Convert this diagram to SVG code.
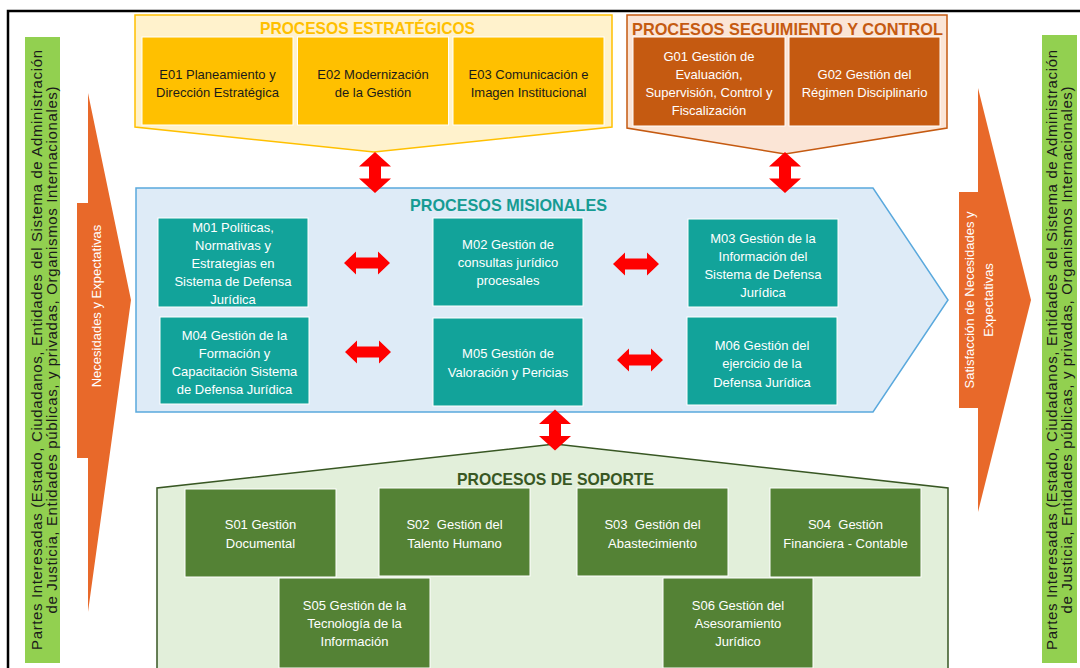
<svg xmlns="http://www.w3.org/2000/svg" width="1080" height="668" viewBox="0 0 1080 668">
<style>
.t{font-family:"Liberation Sans",Arial,sans-serif;font-size:13px;text-anchor:middle}
.tw{fill:#ffffff}
.tb{fill:#1a1a1a}
.ttl{font-family:"Liberation Sans",Arial,sans-serif;font-size:17px;font-weight:bold;text-anchor:middle}
.side{font-family:"Liberation Sans",Arial,sans-serif;font-size:15px;fill:#1a1a1a;text-anchor:middle}
.arr{fill:#e8692a}
.red{fill:#ff0000}
.gold{fill:#ffc000;stroke:#ffffff;stroke-width:1}
.rust{fill:#c55a11;stroke:#ffffff;stroke-width:1}
.teal{fill:#12a39a;stroke:#ffffff;stroke-width:1}
.grn{fill:#548235;stroke:#ffffff;stroke-width:1}
</style>
<defs>
<path id="ha" d="M-23 0 L-11 -11.5 L-11 -5.5 L11 -5.5 L11 -11.5 L23 0 L11 11.5 L11 5.5 L-11 5.5 L-11 11.5 Z"/>
<path id="va" d="M0 -20.5 L16 -6 L6 -6 L6 6 L16 6 L0 20.5 L-16 6 L-6 6 L-6 -6 L-16 -6 Z"/>
</defs>
<rect width="1080" height="668" fill="#ffffff"/>
<path d="M8 668 V11 H1080" fill="none" stroke="#000000" stroke-width="2.5"/>

<g id="partes-izq">
<rect x="25" y="37" width="35" height="626" fill="#92d050"/>
<text class="side" transform="translate(42,350) rotate(-90)" textLength="600" lengthAdjust="spacing">Partes Interesadas (Estado, Ciudadanos, Entidades del Sistema de Administración</text>
<text class="side" transform="translate(57,350) rotate(-90)" textLength="527" lengthAdjust="spacing">de Justicia, Entidades públicas,  y privadas, Organismos Internacionales)</text>
</g>

<g id="necesidades">
<path class="arr" d="M77 203 H88 V93 L131 300 L88 612 V458 H77 Z"/>
<text class="t tw" transform="translate(101,306) rotate(-90)">Necesidades y Expectativas</text>
</g>

<g id="satisfaccion">
<path class="arr" d="M959 192 H978 V88 L1031 300 L978 512 V408 H959 Z"/>
<text class="t tw" transform="translate(974,300) rotate(-90)">Satisfacción de Necesidades y</text>
<text class="t tw" transform="translate(993,300) rotate(-90)">Expectativas</text>
</g>

<g id="partes-der">
<rect x="1042" y="35" width="35" height="628" fill="#92d050"/>
<text class="side" transform="translate(1057,350) rotate(-90)" textLength="600" lengthAdjust="spacing">Partes Interesadas (Estado, Ciudadanos, Entidades del Sistema de Administración</text>
<text class="side" transform="translate(1072,350) rotate(-90)" textLength="527" lengthAdjust="spacing">de Justicia, Entidades públicas,  y privadas, Organismos Internacionales)</text>
</g>

<g id="estrategicos">
<path d="M135 15 H612 V127 L374 152 L135 127 Z" fill="#fff2cc" stroke="#ffc000" stroke-width="1.5"/>
<text class="ttl" x="367.5" y="34" fill="#ffc000" textLength="215" lengthAdjust="spacingAndGlyphs">PROCESOS ESTRATÉGICOS</text>
</g>
<g id="E01"><rect class="gold" x="142" y="37" width="151" height="88"/>
<text class="t tb" x="217.5" y="79">E01 Planeamiento y</text><text class="t tb" x="217.5" y="97">Dirección Estratégica</text></g>
<g id="E02"><rect class="gold" x="297.5" y="37" width="151" height="88"/>
<text class="t tb" x="373" y="79">E02 Modernización</text><text class="t tb" x="373" y="97">de la Gestión</text></g>
<g id="E03"><rect class="gold" x="453" y="37" width="151" height="88"/>
<text class="t tb" x="528.5" y="79">E03 Comunicación e</text><text class="t tb" x="528.5" y="97">Imagen Institucional</text></g>

<g id="seguimiento">
<path d="M627 15 H947 V128 L785 154 L627 128 Z" fill="#fbe5d6" stroke="#c55a11" stroke-width="1.5"/>
<text class="ttl" x="787.5" y="35" fill="#c55a11" textLength="311" lengthAdjust="spacingAndGlyphs">PROCESOS SEGUIMIENTO Y CONTROL</text>
</g>
<g id="G01"><rect class="rust" x="633" y="37" width="152" height="89"/>
<text class="t tw" x="709" y="61">G01 Gestión de</text><text class="t tw" x="709" y="79">Evaluación,</text><text class="t tw" x="709" y="97">Supervisión, Control y</text><text class="t tw" x="709" y="115">Fiscalización</text></g>
<g id="G02"><rect class="rust" x="789" y="37" width="151" height="89"/>
<text class="t tw" x="864.5" y="79">G02 Gestión del</text><text class="t tw" x="864.5" y="97">Régimen Disciplinario</text></g>

<g id="misionales">
<path d="M136 188 H873 L948 300 L873 412 H136 Z" fill="#deebf7" stroke="#5aa9dd" stroke-width="1.5"/>
<text class="ttl" x="508.5" y="211" fill="#169b93" textLength="197" lengthAdjust="spacingAndGlyphs">PROCESOS MISIONALES</text>
</g>
<g id="M01"><rect class="teal" x="158" y="218" width="150" height="89"/>
<text class="t tw" x="233" y="232">M01 Políticas,</text><text class="t tw" x="233" y="250">Normativas y</text><text class="t tw" x="233" y="268">Estrategias en</text><text class="t tw" x="233" y="286">Sistema de Defensa</text><text class="t tw" x="233" y="304">Jurídica</text></g>
<g id="M02"><rect class="teal" x="433" y="218" width="150" height="88"/>
<text class="t tw" x="508" y="249">M02 Gestión de</text><text class="t tw" x="508" y="267">consultas jurídico</text><text class="t tw" x="508" y="285">procesales</text></g>
<g id="M03"><rect class="teal" x="688" y="219" width="150" height="88"/>
<text class="t tw" x="763" y="243">M03 Gestión de la</text><text class="t tw" x="763" y="261">Información del</text><text class="t tw" x="763" y="279">Sistema de Defensa</text><text class="t tw" x="763" y="297">Jurídica</text></g>
<g id="M04"><rect class="teal" x="160" y="317" width="149" height="87"/>
<text class="t tw" x="234.5" y="340">M04 Gestión de la</text><text class="t tw" x="234.5" y="358">Formación y</text><text class="t tw" x="234.5" y="376">Capacitación Sistema</text><text class="t tw" x="234.5" y="394">de Defensa Jurídica</text></g>
<g id="M05"><rect class="teal" x="433" y="318" width="150" height="88"/>
<text class="t tw" x="508" y="358">M05 Gestión de</text><text class="t tw" x="508" y="377">Valoración y Pericias</text></g>
<g id="M06"><rect class="teal" x="687" y="317" width="150" height="88"/>
<text class="t tw" x="762" y="350">M06 Gestión del</text><text class="t tw" x="762" y="368">ejercicio de la</text><text class="t tw" x="762" y="387">Defensa Jurídica</text></g>

<g id="soporte">
<path d="M157 670 V488 L555 444 L948 488 V670" fill="#e2efda" stroke="#385723" stroke-width="1.5"/>
<text class="ttl" x="555.5" y="485" fill="#385723" textLength="197" lengthAdjust="spacingAndGlyphs">PROCESOS DE SOPORTE</text>
</g>
<g id="S01"><rect class="grn" x="185" y="489" width="151" height="88"/>
<text class="t tw" x="260.5" y="529">S01 Gestión</text><text class="t tw" x="260.5" y="548">Documental</text></g>
<g id="S02"><rect class="grn" x="379" y="488" width="151" height="88"/>
<text class="t tw" x="454.5" y="529" xml:space="preserve">S02  Gestión del</text><text class="t tw" x="454.5" y="548">Talento Humano</text></g>
<g id="S03"><rect class="grn" x="577" y="488" width="151" height="88"/>
<text class="t tw" x="652.5" y="529" xml:space="preserve">S03  Gestión del</text><text class="t tw" x="652.5" y="548">Abastecimiento</text></g>
<g id="S04"><rect class="grn" x="770" y="488" width="151" height="89"/>
<text class="t tw" x="845.5" y="529" xml:space="preserve">S04  Gestión</text><text class="t tw" x="845.5" y="548">Financiera - Contable</text></g>
<g id="S05"><rect class="grn" x="279" y="578" width="151" height="90"/>
<text class="t tw" x="354.5" y="610">S05 Gestión de la</text><text class="t tw" x="354.5" y="628">Tecnología de la</text><text class="t tw" x="354.5" y="646">Información</text></g>
<g id="S06"><rect class="grn" x="663" y="578" width="150" height="90"/>
<text class="t tw" x="738" y="610">S06 Gestión del</text><text class="t tw" x="738" y="628">Asesoramiento</text><text class="t tw" x="738" y="646">Jurídico</text></g>

<g id="connectors">
<use href="#va" class="red" x="375" y="172.5"/>
<use href="#va" class="red" x="785" y="172.5"/>
<use href="#va" class="red" x="555" y="430"/>
<use href="#ha" class="red" x="367" y="263"/>
<use href="#ha" class="red" x="636" y="264"/>
<use href="#ha" class="red" x="368" y="352"/>
<use href="#ha" class="red" x="640" y="360"/>
</g>
</svg>
